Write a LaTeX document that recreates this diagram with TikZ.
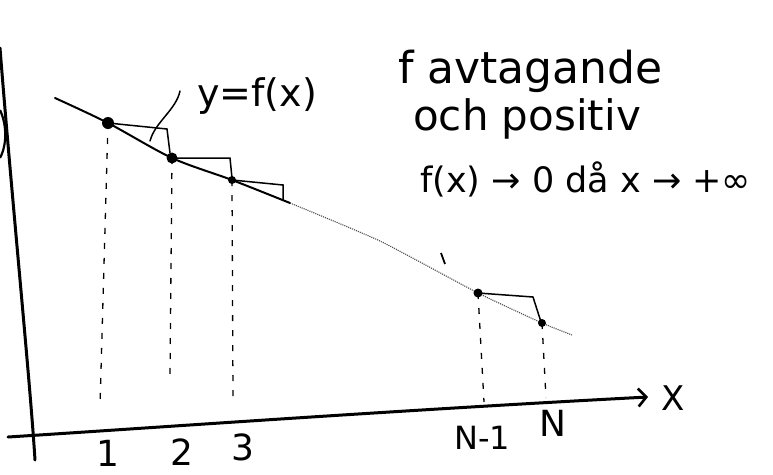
\documentclass[tikz,border=0pt]{standalone}
\usepackage{fontspec}
\setmainfont{DejaVu Sans}
\usetikzlibrary{arrows.meta}
\begin{document}
\begin{tikzpicture}[x=1pt,y=-1pt,
  axis/.style={line width=3pt, line cap=round},
  curve/.style={line width=2pt, line cap=round},
  faint/.style={line width=1.1pt, densely dotted, black!70},
  rectline/.style={line width=1.5pt, line cap=round},
  guide/.style={line width=1.3pt, dash pattern=on 6pt off 9pt},
  dotpt/.style={circle, fill=black, inner sep=0pt, minimum size=#1},
  dotpt/.default=8pt,
  ticklbl/.style={font=\fontsize{36}{40}\selectfont, inner sep=0pt, anchor=base},
  note/.style={inner sep=0pt, anchor=base west},
]
\useasboundingbox (0,0) rectangle (773,474);

% axes
\coordinate (YT) at (0,48);
\coordinate (YB) at (35,460);
\draw[axis] (YT) .. controls (12,200) and (30,380) .. (YB);
\coordinate (XL) at (8,437);
\coordinate (XR) at (648,397);
\draw[axis, -{Straight Barb[length=8pt,width=18pt,line width=2.6pt]}] (XL) .. controls (150,428) and (400,410) .. (XR);
\node[ticklbl, font=\fontsize{34}{38}\selectfont] (xlab) at (673,410) {X};

% cut-off mark at the left edge
\coordinate (BL0) at (0,110);
\coordinate (BL1) at (0,158);
\draw[line width=2.2pt] (BL0) .. controls (7,125) and (7,145) .. (BL1);

% points on the curve
\coordinate (C0) at (55,98);
\coordinate (P1) at (108,123);
\coordinate (P2) at (172,158);
\coordinate (P3) at (232,180);
\coordinate (C4) at (290,203);
\coordinate (C5) at (380,241);
\coordinate (PN1) at (478,293);
\coordinate (PN) at (542,323);
\coordinate (C6) at (572,335);

\draw[curve] plot[smooth, tension=0.5] coordinates {(C0) (P1) (P2) (P3) (C4)};
\draw[faint] plot[smooth, tension=0.3] coordinates {(C4) (C5) (PN1) (PN) (C6)};
\coordinate (M0) at (441,253);
\coordinate (M1) at (445,264);
\draw[line width=1.8pt] (M0) -- (M1);

% upper rectangles
\coordinate (R1a) at (167,129);
\coordinate (R1b) at (170,153);
\draw[rectline] (P1) -- (R1a) -- (R1b);
\coordinate (R2a) at (230,158);
\coordinate (R2b) at (232,178);
\draw[rectline] (P2) -- (R2a) -- (R2b);
\coordinate (R3a) at (283,185);
\coordinate (R3b) at (283,200);
\draw[rectline] (P3) -- (R3a) -- (R3b);
\coordinate (R4a) at (533,297);
\coordinate (R4b) at (541,322);
\draw[rectline] (PN1) -- (R4a) -- (R4b);

% dashed verticals
\coordinate (B1) at (100,406);
\coordinate (B2) at (170,375);
\coordinate (B3) at (233,398);
\coordinate (B4) at (484,402);
\coordinate (B5) at (546,398);
\draw[guide] (P1) -- (B1);
\draw[guide] (P2) -- (B2);
\draw[guide] (P3) -- (B3);
\draw[guide] (PN1) -- (B4);
\draw[guide] (PN) -- (B5);

% dots
\node[dotpt=12pt] (d1) at (P1) {};
\node[dotpt=11pt] (d2) at (P2) {};
\node[dotpt=8pt] (d3) at (P3) {};
\node[dotpt=9pt] (d4) at (PN1) {};
\node[dotpt=8pt] (d5) at (PN) {};

% tick labels
\node[ticklbl] (t1) at (108,466) {1};
\node[ticklbl] (t2) at (182,465) {2};
\node[ticklbl] (t3) at (243,460) {3};
\node[ticklbl, font=\fontsize{32}{36}\selectfont] (tn1) at (482,449) {N-1};
\node[ticklbl] (tn) at (553,436) {N};

% curve label with leader
\node[note, font=\fontsize{38}{42}\selectfont] (flab) at (197,106) {y=f(x)};
\coordinate (L0) at (150,141);
\coordinate (L1) at (180,91);
\draw[rectline] (L0) .. controls (155,122) and (176,110) .. (L1);

% notes
\node[note, font=\fontsize{44}{50}\selectfont] (n1) at (398,83) {f avtagande};
\node[note, font=\fontsize{42}{48}\selectfont] (n2) at (413,130) {och positiv};
\node[note, font=\fontsize{35}{40}\selectfont] (n3) at (420,192) {f(x) → 0 då x → +∞};
\end{tikzpicture}
\end{document}
